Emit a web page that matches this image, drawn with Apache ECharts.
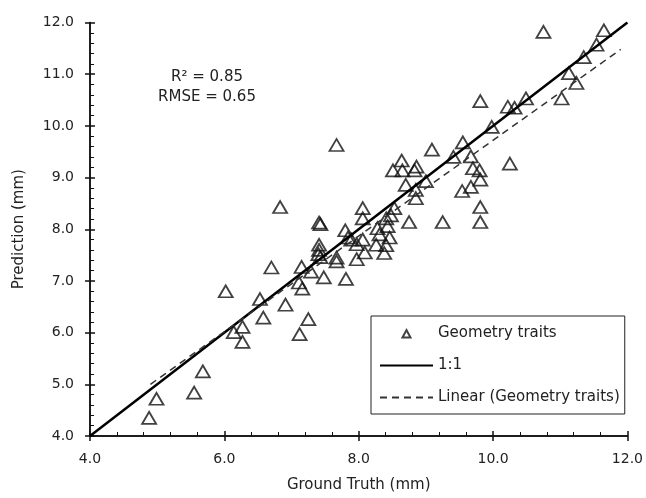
<!DOCTYPE html>
<html>
<head>
<meta charset="utf-8">
<script src="https://cdn.jsdelivr.net/npm/echarts@6/dist/echarts.min.js"></script>
<style>
html,body{margin:0;padding:0;background:#fff;}
#chart{width:646px;height:498px;}
</style>
</head>
<body>
<div id="chart"></div>
<script>
// Ground truth (mm) and predicted (mm) for "Geometry traits"
const groundTruth = [4.88,4.99,5.55,5.68,6.02,6.14,6.27,6.27,6.53,6.58,6.70,6.83,6.91,7.11,7.16,7.12,7.25,7.15,7.29,7.48,
  7.41,7.43,7.41,7.41,7.40,7.43,7.67,7.67,7.67,7.81,7.80,7.84,7.89,7.97,7.97,8.06,8.06,8.06,8.09,8.28,
  8.43,8.31,8.46,8.26,8.41,8.38,8.53,8.48,8.41,8.75,8.70,8.85,8.85,8.51,8.65,8.83,8.86,8.64,9.00,9.09,
  9.25,9.41,9.55,9.67,9.70,9.80,9.81,9.67,9.54,9.81,9.81,9.81,9.98,10.25,10.22,10.32,10.49,11.02,11.13,11.24,
  11.35,11.54,11.65,10.75];
const prediction = [4.35,4.72,4.84,5.25,6.80,6.01,6.11,5.82,6.65,6.29,7.26,8.43,6.54,6.97,6.85,5.97,6.26,7.27,7.18,7.07,
  8.13,8.10,7.70,7.60,7.52,7.46,7.45,7.38,9.63,7.04,7.98,7.84,7.80,7.71,7.42,8.41,8.21,7.80,7.55,8.02,
  8.06,7.90,7.84,7.70,7.69,7.54,8.41,8.27,8.21,8.14,8.86,8.76,8.60,9.14,9.14,9.14,9.21,9.33,8.93,9.54,
  8.14,9.40,9.68,9.41,9.18,9.14,8.96,8.82,8.74,8.43,8.14,10.48,9.98,9.27,10.37,10.35,10.53,10.53,11.02,10.83,
  11.33,11.57,11.85,11.82];
// 1:1 reference line
const oneToOneX = [4, 12];
const oneToOneY = [4, 12];
// Linear trendline (Geometry traits)
const trendX = [4.9, 11.9];
const trendY = [5.0, 11.48];
// Axis settings
const axisMin = 4, axisMax = 12;
const statsText = ['R\u00b2 = 0.85', 'RMSE = 0.65'];
const legendNames = ['Geometry traits', '1:1', 'Linear (Geometry traits)'];

const zip = (a, b) => a.map((v, i) => [v, b[i]]);
const fmt = v => v.toFixed(1);
const FONT = 'DejaVu Sans';
const TXT = '#222';

const chart = echarts.init(document.getElementById('chart'), null, {renderer: 'canvas'});
const baseAxis = {
  type: 'value', min: axisMin, max: axisMax,
  splitLine: {show: false},
  axisLine: {show: true, onZero: false, lineStyle: {color: '#111', width: 1.5}},
};
chart.setOption({
  animation: false,
  backgroundColor: '#fff',
  textStyle: {fontFamily: FONT},
  grid: {left: 90, right: 18, top: 22.5, bottom: 58, containLabel: false},
  title: {
    text: statsText.join('\n'),
    left: 202, top: 62, textAlign: 'center',
    textStyle: {fontFamily: FONT, fontSize: 15, fontWeight: 'normal', color: TXT, lineHeight: 20}
  },
  legend: {
    orient: 'vertical', left: 371, top: 316,
    padding: [10, 5, 9, 8],
    itemWidth: 53, itemHeight: 10, itemGap: 17,
    borderColor: '#222', borderWidth: 1,
    textStyle: {fontFamily: FONT, fontSize: 15, color: TXT},
    data: [
      {name: legendNames[0], icon: 'path://M0,0M53,10M22.5,9L26.5,1.5L30.5,9Z'},
      {name: legendNames[1], itemStyle: {opacity: 0}},
      {name: legendNames[2], itemStyle: {opacity: 0}}
    ]
  },
  xAxis: [
    Object.assign({}, baseAxis, {
      interval: 2,
      name: 'Ground Truth (mm)', nameLocation: 'middle', nameGap: 42,
      nameTextStyle: {fontFamily: FONT, fontSize: 15, color: TXT},
      axisTick: {show: true, inside: false, length: 5, lineStyle: {color: '#111', width: 1.5}},
      axisLabel: {formatter: fmt, fontFamily: FONT, fontSize: 14, color: TXT, margin: 16}
    }),
    Object.assign({}, baseAxis, {
      interval: 2, position: 'bottom',
      axisTick: {show: true, inside: true, length: 5, lineStyle: {color: '#111', width: 1.5}},
      minorTick: {show: true, splitNumber: 5, length: 4, lineStyle: {color: '#111', width: 1}},
      axisLabel: {show: false}
    })
  ],
  yAxis: [
    Object.assign({}, baseAxis, {
      interval: 1,
      name: 'Prediction (mm)', nameLocation: 'middle', nameGap: 63,
      nameTextStyle: {fontFamily: FONT, fontSize: 15, color: TXT},
      axisTick: {show: true, inside: false, length: 5, lineStyle: {color: '#111', width: 1.5}},
      axisLabel: {formatter: fmt, fontFamily: FONT, fontSize: 14, color: TXT, margin: 16}
    }),
    Object.assign({}, baseAxis, {
      interval: 1, position: 'left',
      axisTick: {show: true, inside: true, length: 5, lineStyle: {color: '#111', width: 1.5}},
      minorTick: {show: true, splitNumber: 5, length: 4, lineStyle: {color: '#111', width: 1}},
      axisLabel: {show: false}
    })
  ],
  series: [
    {
      name: legendNames[0], type: 'scatter',
      xAxisIndex: 0, yAxisIndex: 0,
      symbol: 'triangle', symbolSize: [14, 12],
      itemStyle: {color: 'rgba(0,0,0,0)', borderColor: '#111', borderWidth: 1.8},
      data: zip(groundTruth, prediction), z: 3
    },
    {
      name: legendNames[1], type: 'line', xAxisIndex: 0, yAxisIndex: 0,
      symbol: 'none', silent: true,
      lineStyle: {color: '#000', width: 2.5},
      itemStyle: {color: '#000'},
      data: zip(oneToOneX, oneToOneY), z: 4
    },
    {
      name: legendNames[2], type: 'line', xAxisIndex: 0, yAxisIndex: 0,
      symbol: 'none', silent: true,
      lineStyle: {color: '#333', width: 1.5, type: [7, 5]},
      itemStyle: {color: '#333'},
      data: zip(trendX, trendY), z: 4
    }
  ]
});
</script>
</body>
</html>
